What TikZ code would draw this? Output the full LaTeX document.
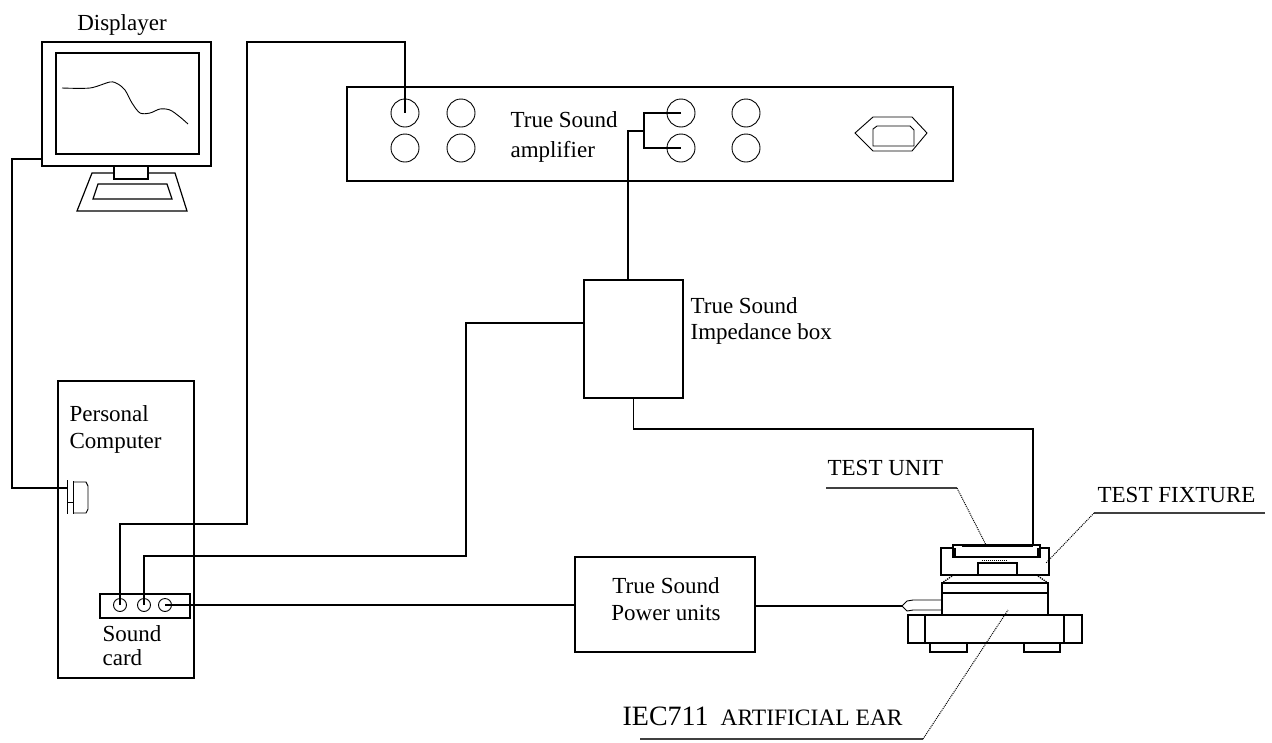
\documentclass[tikz,border=0pt]{standalone}
\usepackage{fontspec}
\setmainfont{Liberation Serif}
\begin{document}
\begin{tikzpicture}[x=1pt,y=-1pt, line width=1.2pt, line join=miter,
  box/.style={draw, rectangle, inner sep=0pt, fill=white},
  jack/.style={draw, circle, inner sep=0pt, minimum size=28pt, line width=0.9pt},
  scjack/.style={draw, circle, inner sep=0pt, minimum size=13pt, line width=0.9pt},
  lbl/.style={inner sep=0pt, font=\fontsize{23}{27}\selectfont, align=left},
  leader/.style={line width=1pt, densely dotted},
  uline/.style={line width=1.4pt, black!75},
  thin/.style={line width=0.9pt}]
\useasboundingbox (0,0) rectangle (1272,742);

% ---------- monitor ----------
\node[box, minimum width=169pt, minimum height=124pt] (mon) at (126.5,104) {};
\node[box, minimum width=143pt, minimum height=101pt] (scr) at (127.5,103.5) {};
\draw[thin] plot[smooth, tension=0.5] coordinates {(62,88) (90,88) (110,82) (118,84) (125,90) (132,103) (140,113) (150,113) (160,109) (170,110) (180,117) (188,124)};
\draw (92,173) -- (175,173) -- (187,211) -- (77,211) -- cycle;
\draw (98,184) -- (167,184) -- (172,199) -- (93,199) -- cycle;
\node[box, minimum width=34pt, minimum height=13pt] (neck) at (131,172.5) {};
\node[lbl, anchor=base] (dlab) at (122,30) {Displayer};

% ---------- personal computer ----------
\node[box, minimum width=136pt, minimum height=297pt] (pc) at (126,529.5) {};
\node[lbl, anchor=north west] (pclab) at (69,405) {Personal\\Computer};
\coordinate (pcport) at (67,488);
\draw[thin] (67,480) -- (67,514);
\draw[thin] (67,502) -- (73,502);
\draw[thin] (73,481) -- (73,514);
\draw[thin] (73,482) -- (86,482) -- (88,486) -- (88,509) -- (86,513) -- (73,513);
\coordinate (bend1) at (12,159);
\draw ([yshift=-55pt]mon.west) -- (bend1) |- (pcport);

\node[box, minimum width=90pt, minimum height=24pt] (sc) at (145,606) {};
\node[scjack] (s1) at (120,605) {};
\node[scjack] (s2) at (144,605) {};
\node[scjack] (s3) at (165,605) {};
\node[lbl, anchor=north west, font=\fontsize{23}{24}\selectfont] (sclab) at (102,625) {Sound\\card};

% ---------- amplifier ----------
\node[box, minimum width=606pt, minimum height=94pt] (amp) at (650,134) {};
\node[jack] (a1) at (405,113) {};
\node[jack] (a2) at (461,113) {};
\node[jack] (a3) at (681,113) {};
\node[jack] (a4) at (746,113) {};
\node[jack] (a5) at (405,148) {};
\node[jack] (a6) at (461,148) {};
\node[jack] (a7) at (681,148) {};
\node[jack] (a8) at (746,148) {};
\node[lbl, anchor=north west, font=\fontsize{23}{30}\selectfont] (amplab) at (510,111) {True Sound\\amplifier};
\draw[thin] (855,133) -- (873,117) -- (912,117) -- (927,133) -- (912,151) -- (873,151) -- cycle;
\draw[thin] (873,146) -- (873,129) -- (877,126) -- (910,126) -- (914,130) -- (914,146) -- cycle;

% ---------- impedance box ----------
\node[box, minimum width=99pt, minimum height=118pt] (imp) at (633.5,339) {};
\node[lbl, anchor=north west, font=\fontsize{23}{26}\selectfont] (implab) at (690,297) {True Sound\\Impedance box};

% ---------- power units ----------
\node[box, minimum width=180pt, minimum height=95pt] (pw) at (665,604.5) {};
\node[lbl, anchor=north, align=center] (pwlab) at (666,577) {True Sound\\Power units};

% ---------- artificial ear / fixture ----------
\node[box, minimum width=174pt, minimum height=28pt] (base) at (995,629) {};
\draw (925,615) -- (925,643);
\draw (1064,615) -- (1064,643);
\draw (930,643) -- (930,652) -- (967,652) -- (967,643);
\draw (1024,643) -- (1024,652) -- (1060,652) -- (1060,643);
\node[box, minimum width=106pt, minimum height=32pt] (ear) at (995,599) {};
\draw (942,593) -- (1048,593);
\draw[line width=1.3pt, densely dotted] (952,576) -- (942,583);
\draw[line width=1.3pt, densely dotted] (1038,576) -- (1048,583);
\node[box, minimum width=108pt, minimum height=27pt] (fx) at (995,561.5) {};
\node[box, minimum width=39pt, minimum height=12pt] (blk) at (997.5,569) {};
\draw[densely dotted, line width=1pt] (982,560) -- (1008,560);
\node[box, minimum width=87pt, minimum height=12pt] (tu) at (996.5,551) {};
\draw[line width=3pt] (962,545) -- (1033,545);
\draw[line width=2.5pt] (954.5,548) -- (954.5,557);
\draw[line width=2.5pt] (1038.5,548) -- (1038.5,557);
\coordinate (plug) at (902,606);
\draw[thin] (plug) -- (907,601) -- (913,600) -- (ear.west |- 0,600);
\draw[thin] (plug) -- (907,611) -- (913,610) -- (ear.west |- 0,610);

% ---------- cables ----------
\coordinate (k1) at (247,524);
\coordinate (k2) at (247,42);
\draw (s1.center) |- (k1) -- (k2) -| (a1.center);
\coordinate (k3) at (466,556);
\draw (s2.center) |- (k3) |- ([yshift=16pt]imp.west);
\draw (s3.center) -- (s3.center -| pw.west);
\draw (pw.east |- plug) -- (plug);
\coordinate (sp) at (644,131);
\draw ([xshift=-5.5pt]imp.north) |- (sp);
\draw (a3.center) -| (sp) |- (a7.center);
\coordinate (k6) at (1033,429);
\draw (imp.south) |- (k6) -- (k6 |- tu.north);

% ---------- leaders ----------
\node[lbl, anchor=base west] (tul) at (827,475) {TEST UNIT};
\coordinate (tuA) at (826,488); \coordinate (tuB) at (957,488); \coordinate (tuC) at (986,545);
\draw[uline] (tuA) -- (tuB);
\draw[leader] (tuB) -- (tuC);
\node[lbl, anchor=base west] (tfl) at (1097,502) {TEST FIXTURE};
\coordinate (tfA) at (1265,513); \coordinate (tfB) at (1094,513); \coordinate (tfC) at (1046,563);
\draw[uline] (tfA) -- (tfB);
\draw[leader] (tfB) -- (tfC);
\node[lbl, anchor=base west] (ael) at (622,725) {{\fontsize{28}{28}\selectfont IEC711}\hspace{12pt}{\fontsize{23.5}{24}\selectfont ARTIFICIAL EAR}};
\coordinate (aeA) at (640,739); \coordinate (aeB) at (923,739); \coordinate (aeC) at (1008,610);
\draw[uline] (aeA) -- (aeB);
\draw[leader] (aeB) -- (aeC);
\end{tikzpicture}
\end{document}
